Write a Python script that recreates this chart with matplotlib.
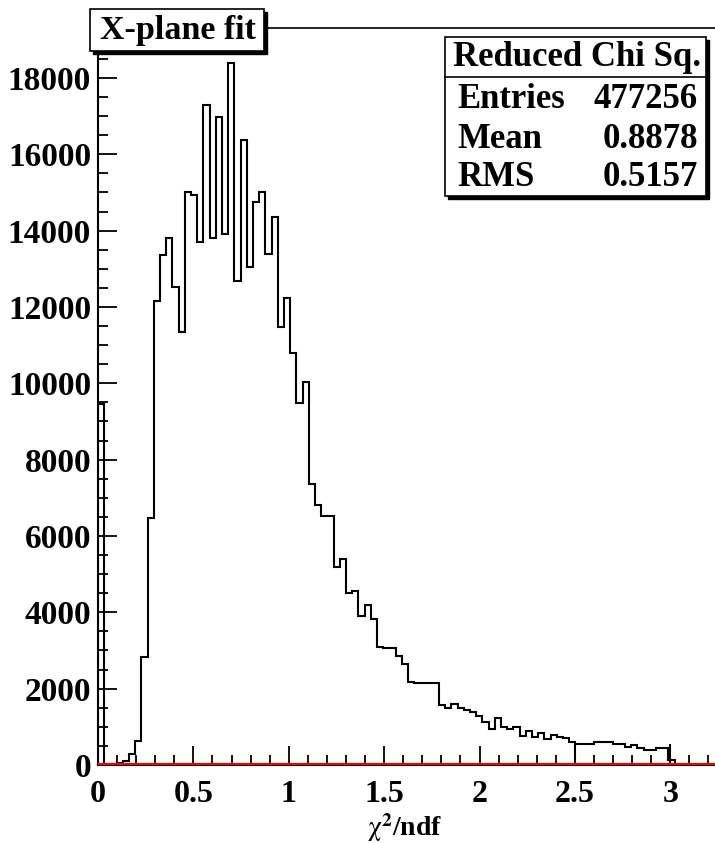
import matplotlib
matplotlib.use('Agg')
import matplotlib.pyplot as plt
from matplotlib.patches import Rectangle
from matplotlib.ticker import MultipleLocator

plt.rcParams['mathtext.fontset'] = 'stix'

# histogram: 100 bins of width 0.0325 between 0 and 3.25
bin_lo = 0.0
bin_hi = 3.25
counts = [9450, 10, 20, 45, 105, 280, 620, 2840, 6460, 12150,
          13360, 13815, 12530, 11350, 15020, 14930, 13710, 17290, 13800, 16990,
          13900, 18400, 12680, 16375, 13040, 14760, 15020, 13400, 14370, 11480,
          12240, 10790, 9480, 10030, 7360, 6800, 6520, 6520, 5200, 5400,
          4515, 4560, 3900, 4190, 3820, 3100, 3060, 3060, 2860, 2640,
          2180, 2160, 2140, 2140, 2140, 1570, 1485, 1600, 1485, 1430,
          1380, 1290, 1135, 935, 1220, 990, 935, 990, 770, 900,
          740, 850, 670, 785, 740, 700, 610, 540, 540, 540,
          595, 595, 595, 540, 540, 480, 520, 437, 393, 393,
          437, 437, 130, 0, 0, 0, 0, 0, 0, 0]
edges = [bin_lo + i * (bin_hi - bin_lo) / len(counts) for i in range(len(counts) + 1)]

cut_x = [2.5, 3.0]
cut_h = 540

title = 'X-plane fit'
stats_name = 'Reduced Chi Sq.'
stats_rows = [('Entries', '477256'), ('Mean', '0.8878'), ('RMS', '0.5157')]
x_ticks = [0, 0.5, 1, 1.5, 2, 2.5, 3]
x_labels = ['0', '0.5', '1', '1.5', '2', '2.5', '3']
y_ticks = [0, 2000, 4000, 6000, 8000, 10000, 12000, 14000, 16000, 18000]

W, H = 715, 843
FONT = 'Liberation Serif'


def fx(x):
    return x / W


def fy(y):
    return 1 - y / H


fig = plt.figure(figsize=(W / 100, H / 100), dpi=100)
ax = fig.add_axes([fx(98), fy(765), fx(718) - fx(98), fy(28) - fy(765)])

ax.stairs(counts, edges, color='black', lw=1.5, zorder=3)
ax.vlines(cut_x, 0, cut_h, color='black', lw=1.5, zorder=3)
ax.axhline(0, color='red', lw=3, zorder=4)

ax.set_xlim(0, 3.25)
ax.set_ylim(0, 19310)
ax.spines['right'].set_visible(False)
ax.spines['left'].set_linewidth(1.5)
ax.spines['bottom'].set_linewidth(1.5)
ax.spines['top'].set_linewidth(1.2)

ax.set_xticks(x_ticks)
ax.set_xticklabels(x_labels)
ax.set_yticks(y_ticks)
ax.set_yticklabels([str(v) for v in y_ticks])
ax.xaxis.set_minor_locator(MultipleLocator(0.1))
ax.yaxis.set_minor_locator(MultipleLocator(500))
ax.tick_params(which='both', direction='in', top=False, right=False, width=1.3)
ax.tick_params(which='major', length=14)
ax.tick_params(which='minor', length=7)
ax.tick_params(axis='x', which='major', pad=11)
ax.tick_params(axis='y', which='major', pad=5)
for lab in ax.get_xticklabels():
    lab.set_fontfamily(FONT)
    lab.set_fontweight('bold')
    lab.set_fontsize(23)
for lab in ax.get_yticklabels():
    lab.set_fontfamily(FONT)
    lab.set_fontweight('bold')
    lab.set_fontsize(24)

# axis title, centred under the axis like ROOT does
fig.text(fx(405), fy(836), r'$\mathrm{\chi}^\mathbf{2}$/ndf', ha='center', va='baseline',
         fontfamily=FONT, fontweight='bold', fontsize=20)


def shadow_box(x0, y0, x1, y1):
    # ROOT style box with dark shadow on the right and bottom
    fig.patches.append(Rectangle((fx(x0 + 3), fy(y1 + 3)), fx(x1 - x0), fy(y0) - fy(y1),
                                 transform=fig.transFigure, facecolor='black',
                                 edgecolor='black', zorder=5))
    fig.patches.append(Rectangle((fx(x0), fy(y1)), fx(x1 - x0), fy(y0) - fy(y1),
                                 transform=fig.transFigure, facecolor='white',
                                 edgecolor='black', lw=1.2, zorder=6))


# title box
shadow_box(90, 9, 264, 51)
fig.text(fx(178), fy(31), title, ha='center', va='center', fontfamily=FONT,
         fontweight='bold', fontsize=24.5, zorder=7)

# stats box
shadow_box(445, 37, 706, 196)
fig.lines.append(plt.Line2D([fx(445), fx(706)], [fy(77), fy(77)], transform=fig.transFigure,
                            color='black', lw=1.2, zorder=7))
fig.text(fx(577), fy(57), stats_name, ha='center', va='center', fontfamily=FONT,
         fontweight='bold', fontsize=25, zorder=7)
row_y = [100, 140, 178]
for (name, val), yy in zip(stats_rows, row_y):
    fig.text(fx(457), fy(yy), name, ha='left', va='center', fontfamily=FONT,
             fontweight='bold', fontsize=25, zorder=7)
    fig.text(fx(698), fy(yy), val, ha='right', va='center', fontfamily=FONT,
             fontweight='bold', fontsize=25, zorder=7)

fig.savefig('out.png', dpi=100)
